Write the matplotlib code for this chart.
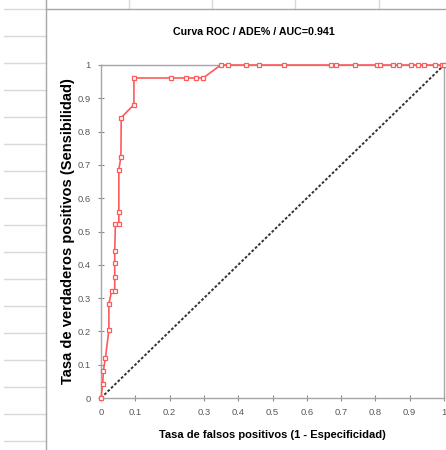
import matplotlib
matplotlib.use("Agg")
import matplotlib.pyplot as plt
from matplotlib.lines import Line2D

# ROC points
fpr = [0, 0.005, 0.007, 0.013, 0.023, 0.023, 0.031, 0.040, 0.040, 0.040, 0.040,
       0.042, 0.052, 0.052, 0.052, 0.058, 0.059, 0.096, 0.096, 0.204, 0.249,
       0.276, 0.298, 0.349, 0.370, 0.422, 0.461, 0.534, 0.670, 0.685, 0.741,
       0.806, 0.813, 0.852, 0.869, 0.903, 0.924, 0.942, 0.975, 0.994, 1.0]
tpr = [0, 0.043, 0.082, 0.121, 0.204, 0.283, 0.321, 0.321, 0.363, 0.404, 0.442,
       0.522, 0.522, 0.559, 0.686, 0.723, 0.842, 0.881, 0.961, 0.961, 0.961,
       0.961, 0.961, 1, 1, 1, 1, 1, 1, 1, 1,
       1, 1, 1, 1, 1, 1, 1, 1, 1, 1]
ref_line = [0, 1]
ticks = [0, 0.1, 0.2, 0.3, 0.4, 0.5, 0.6, 0.7, 0.8, 0.9, 1]
tick_labels = ["0", "0.1", "0.2", "0.3", "0.4", "0.5", "0.6", "0.7", "0.8", "0.9", "1"]

title = "Curva ROC / ADE% / AUC=0.941"
xlabel = "Tasa de falsos positivos (1 - Especificidad)"
ylabel = "Tasa de verdaderos positivos (Sensibilidad)"

sans = ["Liberation Sans", "DejaVu Sans"]

fig = plt.figure(figsize=(4.46, 4.5), dpi=100)
W, H = 446, 450

# spreadsheet grid behind the chart
for y in range(9, 450, 27):
    fig.add_artist(Line2D([4 / W, 46 / W], [1 - y / H, 1 - y / H], color="#d9d9d9", lw=1))
for x in [129.3, 212.3, 295.3, 379]:
    fig.add_artist(Line2D([x / W, x / W], [1, 1 - 9 / H], color="#d9d9d9", lw=1))
fig.add_artist(Line2D([46 / W, 46 / W], [0, 1], color="#a6a6a6", lw=1))
fig.add_artist(Line2D([46 / W, 1], [1 - 9 / H, 1 - 9 / H], color="#a6a6a6", lw=1))

ax = fig.add_axes([101 / W, 1 - 398 / H, 343 / W, 333 / H])
ax.plot(ref_line, ref_line, color="#333333", lw=1.4, ls=(0, (1.4, 1.0)), zorder=2)
ax.plot(fpr, tpr, color="#ff5a5a", lw=1.2, marker="s", ms=3.2,
        mfc="white", mec="#ff5a5a", mew=0.9, zorder=3, clip_on=False)

ax.set_xlim(0, 1)
ax.set_ylim(0, 1)
ax.set_xticks(ticks)
ax.set_yticks(ticks)
ax.set_xticklabels(tick_labels, family=sans)
ax.set_yticklabels(tick_labels, family=sans)
ax.tick_params(direction="inout", length=5, width=0.8, color="#8c8c8c",
               labelsize=6.8, labelcolor="#595959", pad=5)
for s in ax.spines.values():
    s.set_color("#a6a6a6")
    s.set_linewidth(1)

ax.set_xlabel(xlabel, fontsize=8, fontweight="bold", family=sans, labelpad=9)
ax.set_ylabel(ylabel, fontsize=10.5, fontweight="bold", family=sans, labelpad=2)
fig.text(254 / W, 1 - 32 / H, title, ha="center", va="center",
         fontsize=7.7, fontweight="bold", family=sans)

fig.savefig("out.png", dpi=100, facecolor="white")
